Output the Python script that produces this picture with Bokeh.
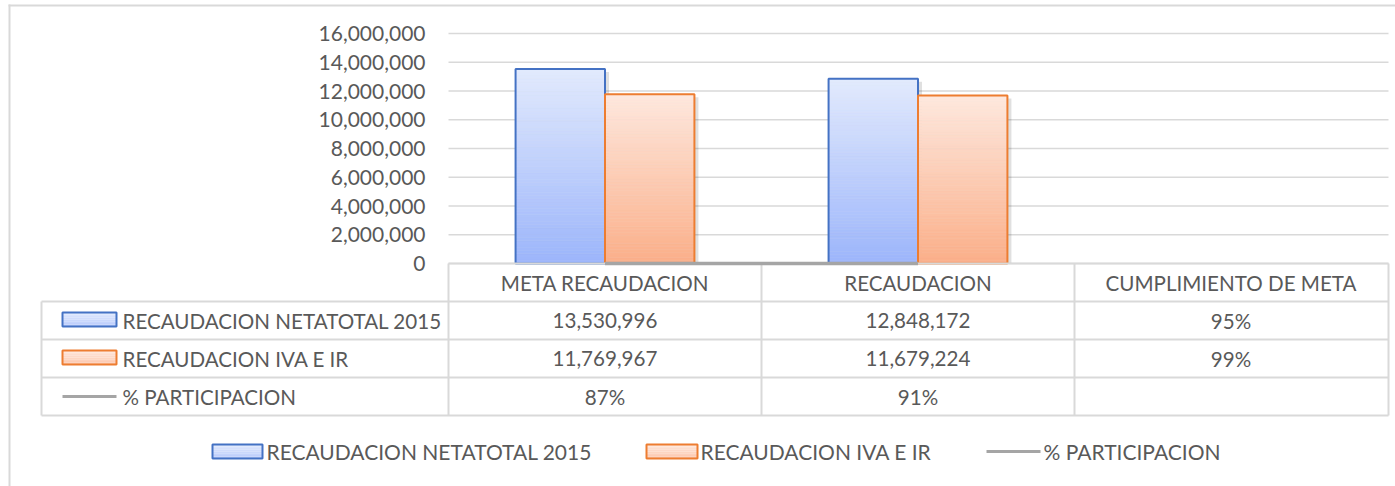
import math
from bokeh.plotting import figure
from bokeh.models import Range1d, FixedTicker, NumeralTickFormatter, ColumnDataSource
from bokeh.core.properties import value
from bokeh.embed import file_html
from bokeh.resources import INLINE

# ---------------- data ----------------
categories = ["META RECAUDACION", "RECAUDACION", "CUMPLIMIENTO DE META"]
series_names = ["RECAUDACION NETATOTAL 2015", "RECAUDACION IVA E IR", "% PARTICIPACION"]
neta_2015 = [13530996, 12848172, 0.95]
iva_ir = [11769967, 11679224, 0.99]
participacion = [0.87, 0.91, None]
y_ticks = [0, 2000000, 4000000, 6000000, 8000000, 10000000, 12000000, 14000000, 16000000]

# ---------------- style / geometry ----------------
FONT = "Lato"
TXT = "#595959"
GRID = "#D9D9D9"
BLUE_LINE, ORANGE_LINE, GRAY_LINE = "#4472C4", "#ED7D31", "#A5A5A5"
BLUE_GRAD = ("#9CB5FB", "#E2EAFD")     # bottom, top
ORANGE_GRAD = ("#FBAF89", "#FEE8DE")

W, H = 1395, 486
PAGE = 0
X_AX = 448          # page x of value axis / first table column
COL_W = 313
Y0 = 263            # page y of value 0
Y16 = 33            # page y of 16,000,000
YMAX = 16000000
vpp = YMAX / (Y0 - Y16)

x_start = (PAGE - X_AX) / COL_W
x_end = (PAGE + W - X_AX) / COL_W
y_end = YMAX + (Y16 - PAGE) * vpp
y_start = -(PAGE + H - Y0) * vpp

p = figure(width=W, height=H, x_range=Range1d(x_start, x_end),
           y_range=Range1d(y_start, y_end), output_backend="svg",
           toolbar_location=None, min_border=0, x_axis_type=None,
           outline_line_color=None)
p.extra_x_ranges = {"px": Range1d(PAGE, PAGE + W)}
p.extra_y_ranges = {"py": Range1d(PAGE + H, PAGE)}
p.xgrid.visible = False
p.ygrid.visible = False

ax = p.yaxis[0]
ax.fixed_location = 0
ax.ticker = FixedTicker(ticks=y_ticks)
ax.formatter = NumeralTickFormatter(format="0,0")
ax.axis_line_color = None
ax.major_tick_line_color = None
ax.minor_tick_line_color = None
ax.major_label_text_font = FONT
ax.major_label_text_font_size = "21px"
ax.major_label_text_color = TXT
ax.major_label_standoff = 17

PX = dict(x_range_name="px", y_range_name="py")

n_cat = len(categories)
col_x = [X_AX + k * COL_W for k in range(n_cat + 1)]
RIGHT = col_x[-1] + 1

# outer chart box (top & left edges visible)
p.segment(x0=[9, 8], y0=[4, 5], x1=[9, W], y1=[H, 5],
          line_color=GRID, line_width=2, **PX)

# gridlines
p.segment(x0=[0] * len(y_ticks), x1=[(RIGHT - X_AX) / COL_W] * len(y_ticks),
          y0=y_ticks, y1=y_ticks, line_color=GRID, line_width=1.5)


def hx(c):
    c = c.lstrip("#")
    return tuple(int(c[i:i + 2], 16) for i in (0, 2, 4))


def mix(a, b, t):
    a, b = hx(a), hx(b)
    return "#%02x%02x%02x" % tuple(round(a[i] + (b[i] - a[i]) * t) for i in range(3))


# bars
bar_w = 0.2857
NS = 60
series = [(neta_2015, -bar_w / 2, BLUE_GRAD, BLUE_LINE),
          (iva_ir, bar_w / 2, ORANGE_GRAD, ORANGE_LINE)]
for vals, off, grad, lc in series:
    sl = dict(left=[], right=[], bottom=[], top=[], color=[])
    ol = dict(left=[], right=[], bottom=[], top=[])
    sh = dict(left=[], right=[], bottom=[], top=[])
    for i, v in enumerate(vals):
        if v < YMAX * 0.002:
            continue
        cx = i + 0.5 + off
        l, r = cx - bar_w / 2, cx + bar_w / 2
        for k in range(NS):
            sl["left"].append(l)
            sl["right"].append(r)
            sl["bottom"].append(v * k / NS)
            sl["top"].append(v * (k + 1) / NS)
            sl["color"].append(mix(grad[0], grad[1], (k + 0.5) / NS))
        ol["left"].append(l)
        ol["right"].append(r)
        ol["bottom"].append(0)
        ol["top"].append(v)
        sh["left"].append(l + 1 / COL_W)
        sh["right"].append(r + 4 / COL_W)
        sh["bottom"].append(0)
        sh["top"].append(v - 3 * vpp)
    p.quad(source=ColumnDataSource(sh), left="left", right="right", bottom="bottom",
           top="top", fill_color="#000000", fill_alpha=0.12, line_color=None)
    p.quad(source=ColumnDataSource(sl), left="left", right="right", bottom="bottom",
           top="top", fill_color="color", line_color="color", line_width=0.5)
    p.quad(source=ColumnDataSource(ol), left="left", right="right", bottom="bottom",
           top="top", fill_color=None, line_color=lc, line_width=2)

# % participacion line
lx = [i + 0.5 for i, v in enumerate(participacion) if v is not None]
ly = [v for v in participacion if v is not None]

# ---------------- data table ----------------
TL = 41
rows_y = [263, 301, 339, 377, 415]
hx0 = [col_x[0]] + [TL] * 4
hx1 = [RIGHT] * 5
p.segment(x0=hx0, x1=hx1, y0=rows_y, y1=rows_y, line_color=GRID, line_width=2, **PX)
vx = [TL] + col_x[:-1] + [RIGHT]
vy0 = [rows_y[1]] + [rows_y[0]] * (len(vx) - 1)
vy1 = [rows_y[-1]] * len(vx)
p.segment(x0=vx, x1=vx, y0=vy0, y1=vy1, line_color=GRID, line_width=2, **PX)

p.line(x=lx, y=ly, line_color=GRAY_LINE, line_width=3.5)

centers = [(col_x[k] + col_x[k + 1]) / 2 for k in range(n_cat)]
row_c = [(rows_y[k] + rows_y[k + 1]) / 2 for k in range(4)]


def fmt(v, k):
    if v is None:
        return ""
    return f"{v:,.0f}" if k < 2 else f"{v:.0%}"


tx, ty, tt = [], [], []
for k in range(n_cat):
    tx.append(centers[k]); ty.append(row_c[0]); tt.append(categories[k])
    tx.append(centers[k]); ty.append(row_c[1]); tt.append(fmt(neta_2015[k], k))
    tx.append(centers[k]); ty.append(row_c[2]); tt.append(fmt(iva_ir[k], k))
    tx.append(centers[k]); ty.append(row_c[3]); tt.append(fmt(participacion[k], 2))
TFS = "20.6px"
p.text(x=tx, y=ty, text=tt, text_align="center", text_baseline="middle",
       text_font=value(FONT), text_font_size=TFS, text_color=TXT, **PX)


def key_box(x0, x1, yc, grad, lc):
    n = 8
    h = 14
    top = yc - h / 2
    for k in range(n):
        t = (k + 0.5) / n
        p.quad(left=[x0], right=[x1], top=[top + h * k / n], bottom=[top + h * (k + 1) / n],
               fill_color=mix(grad[1], grad[0], t * 0.6), line_color=None, **PX)
    p.quad(left=[x0], right=[x1], top=[top], bottom=[top + h], fill_color=None,
           line_color=lc, line_width=2, **PX)


# row labels with keys
key_box(62, 116, row_c[1] - 1, BLUE_GRAD, BLUE_LINE)
key_box(62, 116, row_c[2] - 1, ORANGE_GRAD, ORANGE_LINE)
p.segment(x0=[62], x1=[116], y0=[row_c[3]], y1=[row_c[3]], line_color=GRAY_LINE,
          line_width=3, **PX)
p.text(x=[122] * 3, y=row_c[1:], text=series_names, text_align="left",
       text_baseline="middle", text_font=value(FONT), text_font_size=TFS,
       text_color=TXT, **PX)

# bottom legend
LY = 451
key_box(212, 262, LY, BLUE_GRAD, BLUE_LINE)
key_box(646, 697, LY, ORANGE_GRAD, ORANGE_LINE)
p.segment(x0=[986], x1=[1040], y0=[LY], y1=[LY], line_color=GRAY_LINE, line_width=3, **PX)
p.text(x=[266, 700, 1043], y=[LY] * 3, text=series_names, text_align="left",
       text_baseline="middle", text_font=value(FONT), text_font_size="21px",
       text_color=TXT, **PX)

open("out.html", "w").write(file_html(p, INLINE))
